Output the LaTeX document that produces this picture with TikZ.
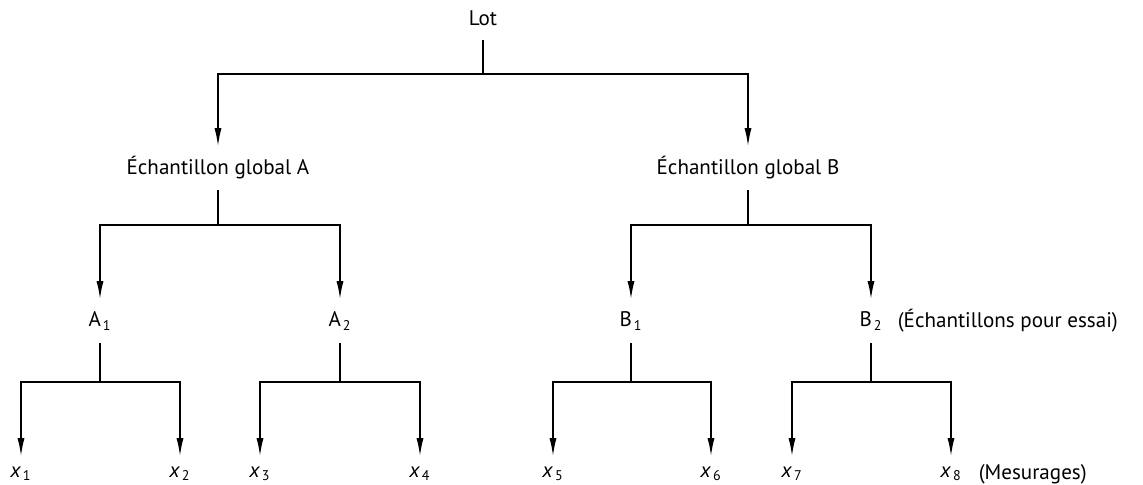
\documentclass[tikz,border=0pt]{standalone}
\usepackage{fontspec}
\setmainfont{PT Sans}
\usepackage{tikz}
\usetikzlibrary{arrows.meta}
\usetikzlibrary{positioning}
\tikzstyle{lbl}=[inner sep=0pt, minimum height=0.84cm, font=\fontsize{12}{14}\selectfont]
\tikzstyle{leaf}=[lbl, minimum height=0.68cm]
\tikzstyle{note}=[lbl, anchor=west]
\tikzstyle{arr}=[-{Latex[length=3.6mm,width=1.4mm]}]

\begin{document}
\begin{tikzpicture}[x=0.02cm, y=-0.02cm, line width=0.9pt]
\useasboundingbox (0,0) rectangle (1143,484);
\node[lbl] (lot) at (483,18){Lot};
\node[lbl] (globA) at (218,168){Échantillon global A};
\node[lbl] (globB) at (748,168){Échantillon global B};
\node[lbl] (A1) at (100,321){A\kern1pt\textsubscript{1}};
\node[lbl] (A2) at (340,321){A\kern1pt\textsubscript{2}};
\node[lbl] (B1) at (631,321){B\kern1pt\textsubscript{1}};
\node[lbl] (B2) at (871,321){B\kern1pt\textsubscript{2}};
\node[note] (essai) at (897,321){(Échantillons pour essai)};
\node[leaf] (x1) at (21,474){\textit{x}\kern1pt\textsubscript{1}};
\node[leaf] (x2) at (180,474){\textit{x}\kern1pt\textsubscript{2}};
\node[leaf] (x3) at (260,474){\textit{x}\kern1pt\textsubscript{3}};
\node[leaf] (x4) at (420,474){\textit{x}\kern1pt\textsubscript{4}};
\node[leaf] (x5) at (553,474){\textit{x}\kern1pt\textsubscript{5}};
\node[leaf] (x6) at (711,474){\textit{x}\kern1pt\textsubscript{6}};
\node[leaf] (x7) at (792,474){\textit{x}\kern1pt\textsubscript{7}};
\node[leaf] (x8) at (951,474){\textit{x}\kern1pt\textsubscript{8}};
\node[note] (mes) at (978,474){(Mesurages)};
\coordinate (jlot) at (483,74);
\coordinate (jA) at (218,225);
\coordinate (jB) at (748,225);
\coordinate (jA1) at (100,382);
\coordinate (jA2) at (340,382);
\coordinate (jB1) at (631,382);
\coordinate (jB2) at (871,382);
\draw[](lot) -- (jlot);
\draw[arr](jlot) -| (globA);
\draw[arr](jlot) -| (globB);
\draw[](globA) -- (jA);
\draw[arr](jA) -| (A1);
\draw[arr](jA) -| (A2);
\draw[](globB) -- (jB);
\draw[arr](jB) -| (B1);
\draw[arr](jB) -| (B2);
\draw[](A1) -- (jA1);
\draw[arr](jA1) -| (x1);
\draw[arr](jA1) -| (x2);
\draw[](A2) -- (jA2);
\draw[arr](jA2) -| (x3);
\draw[arr](jA2) -| (x4);
\draw[](B1) -- (jB1);
\draw[arr](jB1) -| (x5);
\draw[arr](jB1) -| (x6);
\draw[](B2) -- (jB2);
\draw[arr](jB2) -| (x7);
\draw[arr](jB2) -| (x8);
\end{tikzpicture}
\end{document}
